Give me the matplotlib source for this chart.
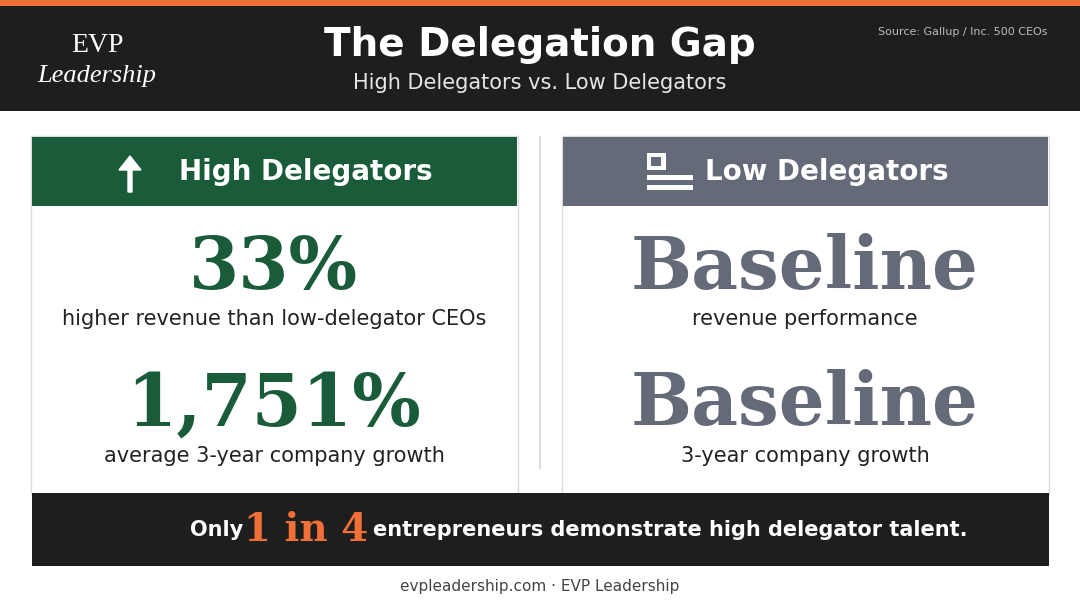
import matplotlib
matplotlib.use("Agg")
import matplotlib.pyplot as plt
from matplotlib.patches import Rectangle, FancyArrow

title = "The Delegation Gap"
subtitle = "High Delegators vs. Low Delegators"
source = "Source: Gallup / Inc. 500 CEOs"
groups = ["High Delegators", "Low Delegators"]
high_stats = ["33%", "1,751%"]
high_labels = ["higher revenue than low-delegator CEOs", "average 3-year company growth"]
low_stats = ["Baseline", "Baseline"]
low_labels = ["revenue performance", "3-year company growth"]
footer = "evpleadership.com · EVP Leadership"

GREEN = "#1a5c3a"; GRAY = "#646a78"; DARK = "#1e1e1e"; ORANGE = "#f07038"; TEXT = "#222222"

fig = plt.figure(figsize=(10.8, 6.03), dpi=100)
ax = fig.add_axes([0, 0, 1, 1])
ax.set_xlim(0, 1080); ax.set_ylim(603, 0); ax.axis("off")
fig.patch.set_facecolor("white")

def rect(x, y, w, h, c, **kw):
    ax.add_patch(Rectangle((x, y), w, h, facecolor=c, edgecolor=kw.pop("ec", "none"), **kw))

rect(0, 0, 1080, 6, ORANGE)
rect(0, 6, 1080, 105, DARK)
ax.text(540, 45, title, color="white", fontsize=28, fontweight="bold", ha="center", va="center", family="DejaVu Sans")
ax.text(540, 83, subtitle, color="#e6e6e6", fontsize=15, ha="center", va="center")
ax.text(1048, 32, source, color="#bbbbbb", fontsize=8, ha="right", va="center")
ax.text(97, 46, "EVP", color="white", fontsize=20, ha="center", va="center", family="Liberation Serif")
ax.text(97, 76, "Leadership", color="white", fontsize=19, ha="center", va="center", family="Liberation Serif", style="italic")

# cards
for x0, col, name, stats, labels, scol in [(32, GREEN, groups[0], high_stats, high_labels, GREEN),
                                          (563, GRAY, groups[1], low_stats, low_labels, GRAY)]:
    rect(x0 - 1, 136, 487, 358, "white", ec="#dddddd", lw=1)
    rect(x0, 137, 485, 69, col)
    cx = x0 + 242
    ax.text(cx + 32 if x0 < 500 else cx + 22, 172, name, color="white", fontsize=20, fontweight="bold", ha="center", va="center")
    for i, (s, l) in enumerate(zip(stats, labels)):
        ys = 268 + i * 137
        ax.text(cx, ys, s, color=scol, fontsize=52, fontweight="bold", ha="center", va="center", family="DejaVu Serif")
        ax.text(cx, ys + 51, l, color=TEXT, fontsize=15, ha="center", va="center")

# icons
ax.add_patch(FancyArrow(130, 192, 0, -36, width=4, head_width=22, head_length=14, color="white", length_includes_head=True))
rect(647, 153, 19, 17, "white"); rect(651, 157, 10, 9, GRAY)
rect(647, 175, 46, 5, "white"); rect(647, 185, 46, 5, "white")

ax.plot([540, 540], [137, 468], color="#dddddd", lw=1.5)

# bottom bar
rect(32, 493, 1017, 73, DARK)
ax.text(243, 530, "Only", color="white", fontsize=15, fontweight="bold", ha="right", va="center")
ax.text(306, 530, "1 in 4", color=ORANGE, fontsize=28, fontweight="bold", ha="center", va="center", family="DejaVu Serif")
ax.text(373, 530, "entrepreneurs demonstrate high delegator talent.", color="white", fontsize=15, fontweight="bold", ha="left", va="center")

ax.text(540, 587, footer, color="#444444", fontsize=11, ha="center", va="center")

fig.savefig("out.png", dpi=100)
